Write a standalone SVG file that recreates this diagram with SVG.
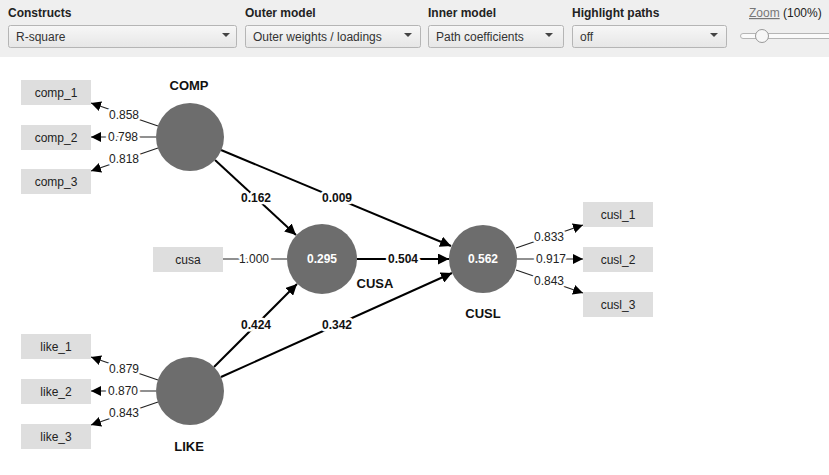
<svg xmlns="http://www.w3.org/2000/svg" width="829" height="475" viewBox="0 0 829 475">
<style>
text { font-family: "Liberation Sans", Arial, sans-serif; }
.hdr { font-size: 12px; font-weight: bold; fill: #222; }
.dd { fill: url(#ddg); stroke: #b5b5b5; stroke-width: 1; }
.ddt { font-size: 12px; fill: #333; }
.caret { fill: #444; }
.ind { fill: #dedede; }
.indt { font-size: 12px; fill: #222; text-anchor: middle; dominant-baseline: central; }
.lv { fill: #6d6d6d; }
.lvv { font-size: 12px; fill: #fff; font-weight: bold; text-anchor: middle; dominant-baseline: central; }
.lvn { font-size: 13px; font-weight: bold; fill: #111; text-anchor: middle; dominant-baseline: central; }
.ld { stroke: #222; stroke-width: 1.2; fill: none; }
.pc { stroke: #000; stroke-width: 2; fill: none; }
.ldl { font-size: 12px; fill: #222; text-anchor: middle; dominant-baseline: central; paint-order: stroke; stroke: #fff; stroke-width: 5px; stroke-linejoin: round; }
.pcl { font-size: 12px; font-weight: bold; fill: #111; text-anchor: middle; dominant-baseline: central; paint-order: stroke; stroke: #fff; stroke-width: 5px; stroke-linejoin: round; }
</style>
<defs>
<linearGradient id="ddg" x1="0" y1="0" x2="0" y2="1">
<stop offset="0" stop-color="#f7f7f7"/>
<stop offset="1" stop-color="#e6e6e6"/>
</linearGradient>
<marker id="ah" viewBox="0 0 10 10" refX="10" refY="5" markerWidth="10" markerHeight="10" markerUnits="userSpaceOnUse" orient="auto">
<path d="M0,0 L10,5 L0,10 z" fill="#000"/>
</marker>
<marker id="ahs" viewBox="0 0 10 10" refX="10" refY="5" markerWidth="11" markerHeight="11" markerUnits="userSpaceOnUse" orient="auto">
<path d="M0,0 L10,5 L0,10 z" fill="#000"/>
</marker>
</defs>
<rect x="0" y="0" width="829" height="475" fill="#fff"/>
<g id="toolbar">
<rect x="0" y="0" width="829" height="57" fill="#efefef"/>
<text class="hdr" x="8" y="17">Constructs</text>
<text class="hdr" x="245" y="17">Outer model</text>
<text class="hdr" x="428" y="17">Inner model</text>
<text class="hdr" x="572" y="17">Highlight paths</text>
<text x="749" y="17" font-size="12" fill="#777" text-decoration="underline">Zoom</text>
<text x="783" y="17" font-size="12" fill="#222">(100%)</text>
<rect class="dd" x="8.5" y="25.5" width="228" height="22" rx="2"/>
<text class="ddt" x="16" y="40.5">R-square</text>
<path class="caret" d="M222,33 L230,33 L226,37 z"/>
<rect class="dd" x="245.5" y="25.5" width="175" height="22" rx="2"/>
<text class="ddt" x="253" y="40.5">Outer weights / loadings</text>
<path class="caret" d="M404,33 L412,33 L408,37 z"/>
<rect class="dd" x="428.5" y="25.5" width="135" height="22" rx="2"/>
<text class="ddt" x="436" y="40.5">Path coefficients</text>
<path class="caret" d="M545,33 L553,33 L549,37 z"/>
<rect class="dd" x="572.5" y="25.5" width="154" height="22" rx="2"/>
<text class="ddt" x="580" y="40.5">off</text>
<path class="caret" d="M710,33 L718,33 L714,37 z"/>
<rect x="740.5" y="33.5" width="100" height="5" rx="2.5" fill="#fafafa" stroke="#b5b5b5"/>
<circle cx="762" cy="36" r="6.5" fill="#f7f7f7" stroke="#999"/>
</g>
<g id="connectors">
<line class="ld" x1="158" y1="126" x2="91" y2="103" marker-end="url(#ah)"/>
<line class="ld" x1="156" y1="137" x2="91" y2="137" marker-end="url(#ah)"/>
<line class="ld" x1="158" y1="148" x2="91" y2="171" marker-end="url(#ah)"/>
<line class="ld" x1="158" y1="380" x2="91" y2="357" marker-end="url(#ah)"/>
<line class="ld" x1="156" y1="391" x2="91" y2="391" marker-end="url(#ah)"/>
<line class="ld" x1="158" y1="402" x2="91" y2="425" marker-end="url(#ah)"/>
<line class="ld" x1="516" y1="248" x2="583" y2="225" marker-end="url(#ah)"/>
<line class="ld" x1="517" y1="259" x2="583" y2="259" marker-end="url(#ah)"/>
<line class="ld" x1="516" y1="270" x2="583" y2="293" marker-end="url(#ah)"/>
<line class="ld" x1="223" y1="259" x2="287" y2="259"/>
<line class="pc" x1="215" y1="160" x2="296" y2="235" marker-end="url(#ahs)"/>
<line class="pc" x1="221" y1="150" x2="451" y2="246" marker-end="url(#ahs)"/>
<line class="pc" x1="214" y1="367" x2="297" y2="284" marker-end="url(#ahs)"/>
<line class="pc" x1="221" y1="377" x2="452" y2="273" marker-end="url(#ahs)"/>
<line class="pc" x1="357" y1="259" x2="449" y2="259" marker-end="url(#ahs)"/>
<text class="ldl" x="124" y="115">0.858</text>
<text class="ldl" x="123" y="137">0.798</text>
<text class="ldl" x="124" y="159">0.818</text>
<text class="ldl" x="124" y="369">0.879</text>
<text class="ldl" x="123" y="391">0.870</text>
<text class="ldl" x="124" y="413">0.843</text>
<text class="ldl" x="549" y="237">0.833</text>
<text class="ldl" x="551" y="259">0.917</text>
<text class="ldl" x="549" y="281">0.843</text>
<text class="ldl" x="254" y="259">1.000</text>
<text class="pcl" x="256" y="198">0.162</text>
<text class="pcl" x="337" y="198">0.009</text>
<text class="pcl" x="256" y="325">0.424</text>
<text class="pcl" x="337" y="325">0.342</text>
<text class="pcl" x="403" y="259">0.504</text>
</g>
<g id="comp_1"><rect class="ind" x="21" y="80" width="70" height="25"/><text class="indt" x="56" y="92.5">comp_1</text></g>
<g id="comp_2"><rect class="ind" x="21" y="125" width="70" height="25"/><text class="indt" x="56" y="137.5">comp_2</text></g>
<g id="comp_3"><rect class="ind" x="21" y="169" width="70" height="25"/><text class="indt" x="56" y="181.5">comp_3</text></g>
<g id="like_1"><rect class="ind" x="21" y="334" width="70" height="25"/><text class="indt" x="56" y="346.5">like_1</text></g>
<g id="like_2"><rect class="ind" x="21" y="379" width="70" height="25"/><text class="indt" x="56" y="391.5">like_2</text></g>
<g id="like_3"><rect class="ind" x="21" y="424" width="70" height="25"/><text class="indt" x="56" y="436.5">like_3</text></g>
<g id="cusa"><rect class="ind" x="153" y="247" width="70" height="25"/><text class="indt" x="188" y="259.5">cusa</text></g>
<g id="cusl_1"><rect class="ind" x="583" y="202" width="70" height="25"/><text class="indt" x="618" y="214.5">cusl_1</text></g>
<g id="cusl_2"><rect class="ind" x="583" y="247" width="70" height="25"/><text class="indt" x="618" y="259.5">cusl_2</text></g>
<g id="cusl_3"><rect class="ind" x="583" y="292" width="70" height="25"/><text class="indt" x="618" y="304.5">cusl_3</text></g>
<g id="COMP"><circle class="lv" cx="190" cy="137" r="34"/><text class="lvn" x="189" y="85">COMP</text></g>
<g id="LIKE"><circle class="lv" cx="190" cy="391" r="34"/><text class="lvn" x="189" y="446">LIKE</text></g>
<g id="CUSA"><circle class="lv" cx="322" cy="259" r="35"/><text class="lvv" x="322" y="259">0.295</text><text class="lvn" x="375" y="283">CUSA</text></g>
<g id="CUSL"><circle class="lv" cx="483" cy="259" r="34"/><text class="lvv" x="483" y="259">0.562</text><text class="lvn" x="483" y="313">CUSL</text></g>
</svg>
